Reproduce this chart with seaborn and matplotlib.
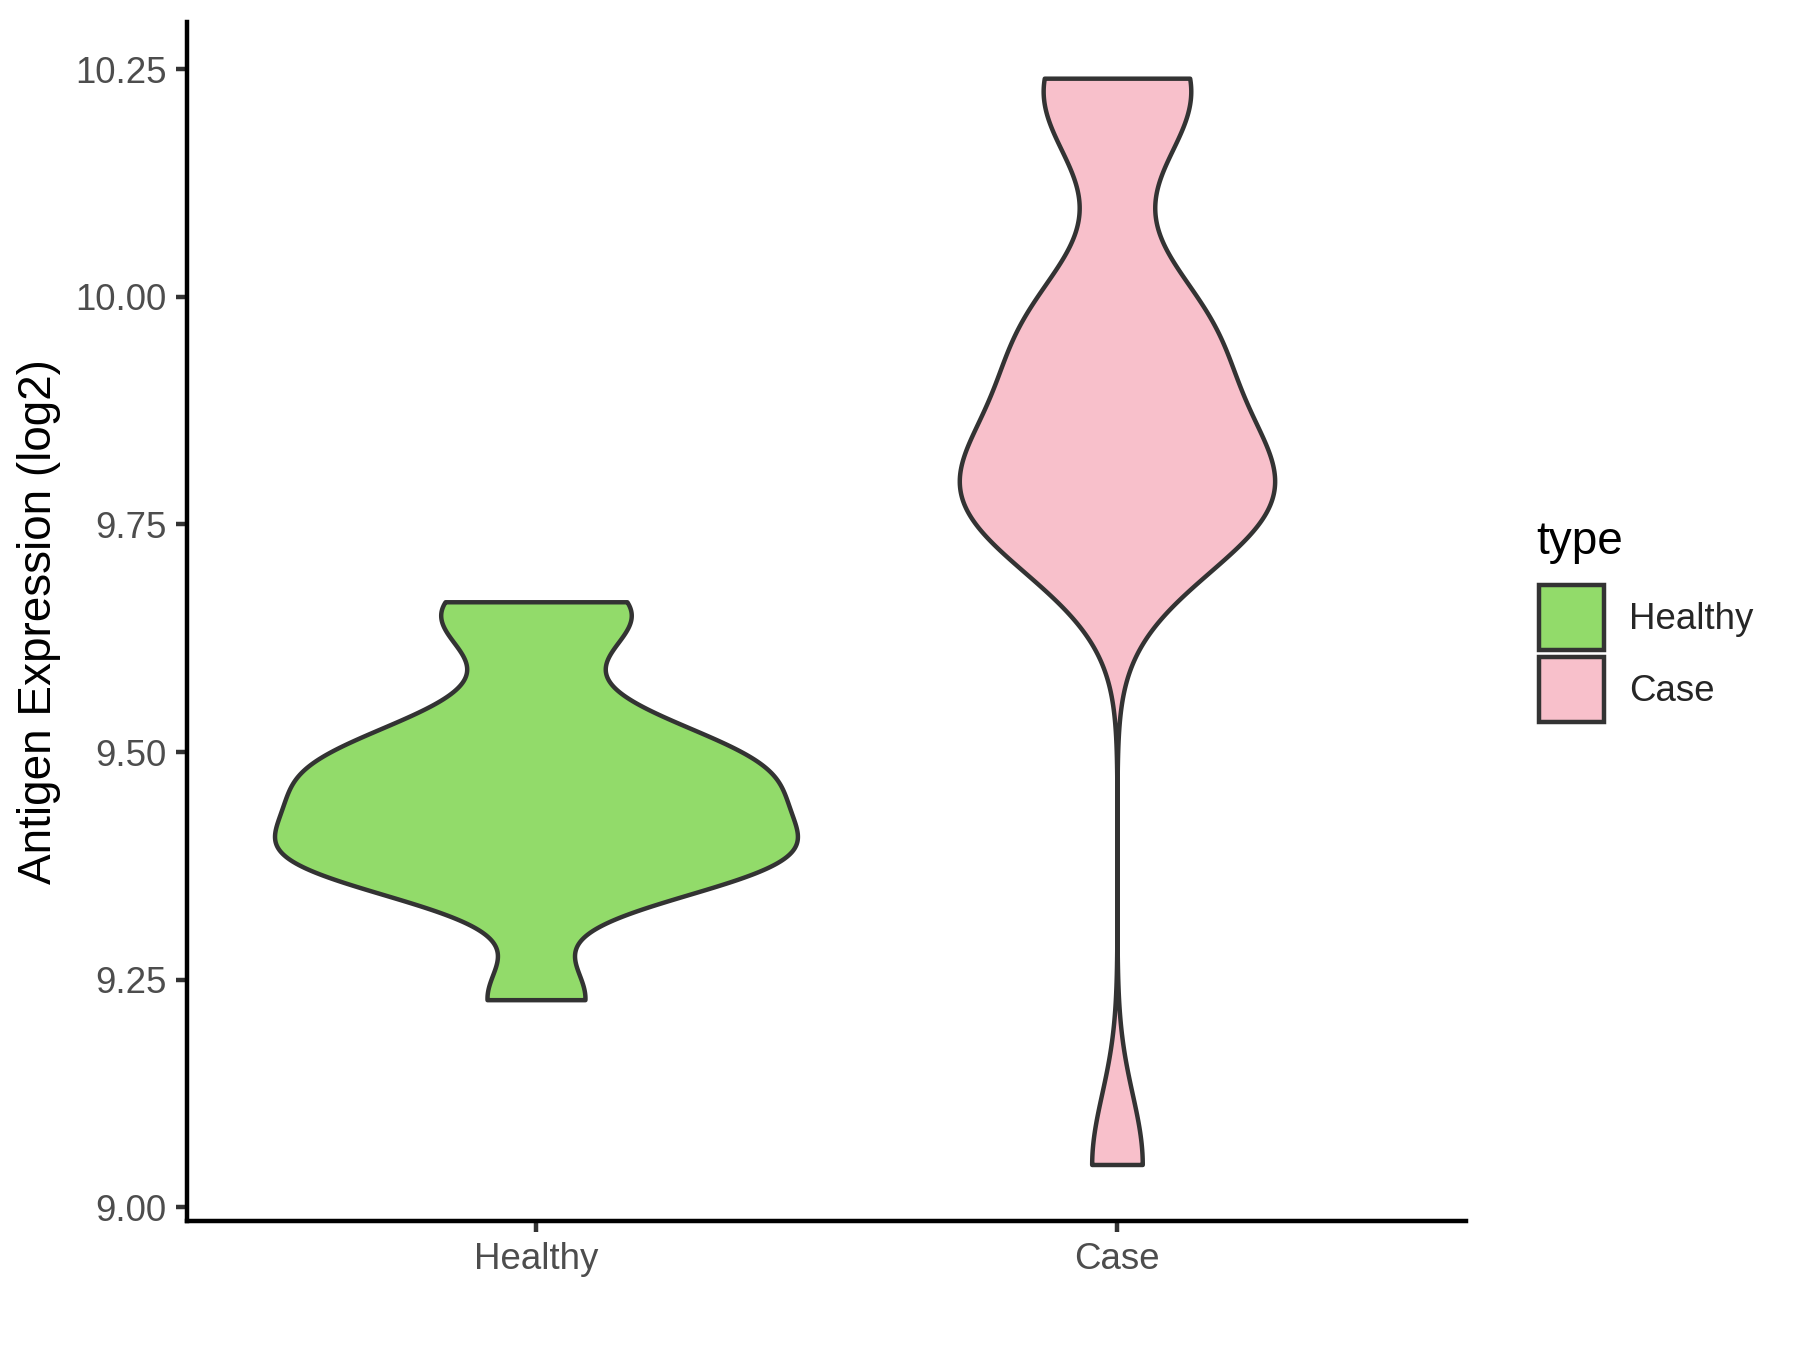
import numpy as np
import pandas as pd
import seaborn as sns
import matplotlib
matplotlib.use("Agg")
import matplotlib.pyplot as plt
from matplotlib.patches import Patch

# values
groups = ["Healthy", "Case"]
healthy_vals = [9.228, 9.378, 9.378, 9.378, 9.379, 9.436, 9.436, 9.486, 9.486, 9.486,
                9.541, 9.641, 9.665]
case_vals = [9.047, 9.717, 9.759, 9.759, 9.803, 9.804, 9.806, 9.874, 9.965, 9.965,
             9.965, 10.199, 10.240, 10.240]
colors = {"Healthy": "#92DB6A", "Case": "#F8C0CB"}
yticks = [9.00, 9.25, 9.50, 9.75, 10.00, 10.25]

df = pd.DataFrame({
    "type": ["Healthy"] * len(healthy_vals) + ["Case"] * len(case_vals),
    "value": healthy_vals + case_vals,
})


# R's bw.nrd0 as a gaussian_kde factor, like ggplot's geom_violin
def nrd0_factor(kde):
    x = np.asarray(kde.dataset).ravel()
    sd = x.std(ddof=1)
    q = np.percentile(x, [25, 75])
    lo = min(sd, (q[1] - q[0]) / 1.34)
    if lo <= 0:
        lo = sd
    return 0.9 * lo * len(x) ** -0.2 / sd


sns.set_theme(style="ticks")
plt.rcParams["font.family"] = ["Liberation Sans", "DejaVu Sans"]

fig = plt.figure(figsize=(6, 4.5), dpi=300)
ax = fig.add_axes([0.1041, 0.0956, 0.7101, 0.8883])
sns.violinplot(data=df, x="type", y="value", hue="type", order=groups,
               palette=colors, saturation=1, cut=0, density_norm="area",
               common_norm=True, width=0.9, inner=None, linewidth=1.07,
               linecolor="#333333", bw_method=nrd0_factor, gridsize=512,
               legend=False, ax=ax)

ax.set_xlim(-0.6, 1.6)
ax.set_ylim(8.985, 10.302)
ax.set_yticks(yticks)
ax.set_yticklabels([f"{v:.2f}" for v in yticks])
ax.set_xlabel("")
ax.set_ylabel("Antigen Expression (log2)", fontsize=11, color="black", labelpad=3.5)
for side in ["top", "right"]:
    ax.spines[side].set_visible(False)
for side in ["left", "bottom"]:
    ax.spines[side].set_color("black")
    ax.spines[side].set_linewidth(1.07)
ax.tick_params(axis="both", length=2.74, width=1.07, color="#333333",
               labelsize=8.8, labelcolor="#4D4D4D", pad=2.2)

# legend: title set apart so the gap to the keys matches ggplot
handles = [Patch(facecolor=colors[g], edgecolor="#333333", linewidth=1.07, label=g)
           for g in groups]
fig.legend(handles=handles, loc="upper left", bbox_to_anchor=(0.855, 0.5667),
           frameon=False, fontsize=8.8, handlelength=1.77, handleheight=2.35,
           labelspacing=0.19, handletextpad=0.68, borderpad=0, borderaxespad=0)
fig.text(0.8533, 0.5896, "type", fontsize=11, color="black", ha="left", va="baseline")

fig.savefig("out.png")
